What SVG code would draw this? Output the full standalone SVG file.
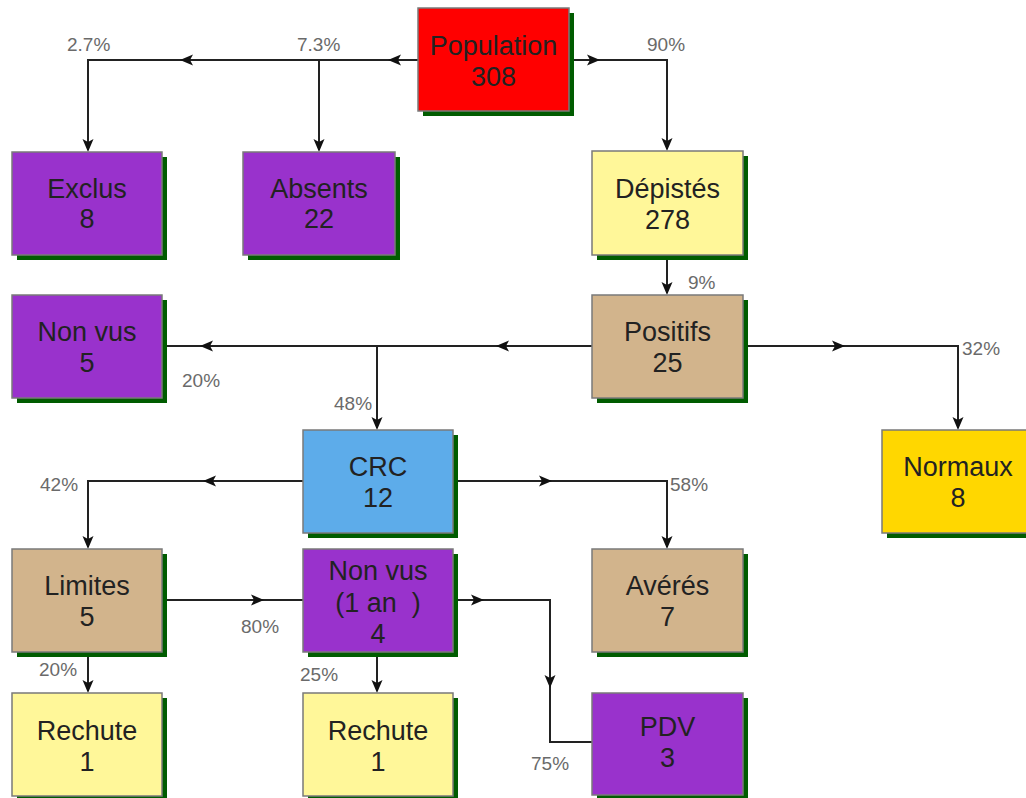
<svg xmlns="http://www.w3.org/2000/svg" xmlns:xlink="http://www.w3.org/1999/xlink" width="1026" height="798" viewBox="0 0 1026 798">
<defs>
<style>
.box{stroke:#7a7a7a;stroke-width:1.5}
.sh{fill:#005c00}
.t{font-family:"Liberation Sans",Arial,sans-serif;font-size:27px;fill:#222;text-anchor:middle}
.p{font-family:"Liberation Sans",Arial,sans-serif;font-size:19px;fill:#6a6a6a}
.ln{fill:none;stroke:#222;stroke-width:2}
.purple{fill:#9932cc}
.red{fill:#ff0000}
.yel{fill:#fff799}
.tan{fill:#d2b48c}
.blue{fill:#5dacea}
.gold{fill:#ffd700}
</style>
<path id="ah" d="M0,0 L-13,-5.5 L-10,0 L-13,5.5 Z" fill="#111"/>
</defs>
<rect width="1026" height="798" fill="#ffffff"/>

<g id="connectors">
<path class="ln" d="M418,60 H88 V150"/>
<path class="ln" d="M319,60 V150"/>
<path class="ln" d="M569,60 H667 V149"/>
<path class="ln" d="M667,255 V293"/>
<path class="ln" d="M592,346 H162"/>
<path class="ln" d="M377,346 V428"/>
<path class="ln" d="M743,346 H958 V428"/>
<path class="ln" d="M303,481 H88 V547"/>
<path class="ln" d="M453,481 H667 V547"/>
<path class="ln" d="M162,600 H303"/>
<path class="ln" d="M453,600 H550 V742 H592"/>
<path class="ln" d="M88,652 V691"/>
<path class="ln" d="M377,652 V691"/>
<use xlink:href="#ah" transform="translate(180,60) rotate(180)"/>
<use xlink:href="#ah" transform="translate(388,60) rotate(180)"/>
<use xlink:href="#ah" transform="translate(88,152) rotate(90)"/>
<use xlink:href="#ah" transform="translate(319,152) rotate(90)"/>
<use xlink:href="#ah" transform="translate(600,60)"/>
<use xlink:href="#ah" transform="translate(667,151) rotate(90)"/>
<use xlink:href="#ah" transform="translate(667,295) rotate(90)"/>
<use xlink:href="#ah" transform="translate(496,346) rotate(180)"/>
<use xlink:href="#ah" transform="translate(200,346) rotate(180)"/>
<use xlink:href="#ah" transform="translate(377,430) rotate(90)"/>
<use xlink:href="#ah" transform="translate(845,346)"/>
<use xlink:href="#ah" transform="translate(958,430) rotate(90)"/>
<use xlink:href="#ah" transform="translate(203,481) rotate(180)"/>
<use xlink:href="#ah" transform="translate(88,549) rotate(90)"/>
<use xlink:href="#ah" transform="translate(552,481)"/>
<use xlink:href="#ah" transform="translate(667,549) rotate(90)"/>
<use xlink:href="#ah" transform="translate(264,600)"/>
<use xlink:href="#ah" transform="translate(484,600)"/>
<use xlink:href="#ah" transform="translate(550,688) rotate(90)"/>
<use xlink:href="#ah" transform="translate(88,693) rotate(90)"/>
<use xlink:href="#ah" transform="translate(377,693) rotate(90)"/>
<text class="p" x="67" y="51">2.7%</text>
<text class="p" x="297" y="51">7.3%</text>
<text class="p" x="647" y="51">90%</text>
<text class="p" x="688" y="289">9%</text>
<text class="p" x="962" y="355">32%</text>
<text class="p" x="182" y="387">20%</text>
<text class="p" x="334" y="410">48%</text>
<text class="p" x="40" y="491">42%</text>
<text class="p" x="670" y="491">58%</text>
<text class="p" x="241" y="633">80%</text>
<text class="p" x="39" y="676">20%</text>
<text class="p" x="300" y="681">25%</text>
<text class="p" x="531" y="770">75%</text>
</g>

<g id="population">
<rect class="sh" x="423" y="13" width="151" height="103"/>
<rect class="box red" x="418" y="8" width="151" height="103"/>
<text class="t" x="493.5" y="55">Population</text>
<text class="t" x="493.5" y="86">308</text>
</g>
<g id="exclus">
<rect class="sh" x="17" y="157" width="150" height="103"/>
<rect class="box purple" x="12" y="152" width="150" height="103"/>
<text class="t" x="87" y="198">Exclus</text>
<text class="t" x="87" y="228">8</text>
</g>
<g id="absents">
<rect class="sh" x="248" y="157" width="152" height="103"/>
<rect class="box purple" x="243" y="152" width="152" height="103"/>
<text class="t" x="319" y="198">Absents</text>
<text class="t" x="319" y="228">22</text>
</g>
<g id="depistes">
<rect class="sh" x="597" y="156" width="151" height="104"/>
<rect class="box yel" x="592" y="151" width="151" height="104"/>
<text class="t" x="667.5" y="198">Dépistés</text>
<text class="t" x="667.5" y="229">278</text>
</g>
<g id="nonvus5">
<rect class="sh" x="17" y="300" width="150" height="103"/>
<rect class="box purple" x="12" y="295" width="150" height="103"/>
<text class="t" x="87" y="341">Non vus</text>
<text class="t" x="87" y="372">5</text>
</g>
<g id="positifs">
<rect class="sh" x="597" y="300" width="151" height="103"/>
<rect class="box tan" x="592" y="295" width="151" height="103"/>
<text class="t" x="667.5" y="341">Positifs</text>
<text class="t" x="667.5" y="372">25</text>
</g>
<g id="crc">
<rect class="sh" x="308" y="435" width="150" height="103"/>
<rect class="box blue" x="303" y="430" width="150" height="103"/>
<text class="t" x="378" y="476">CRC</text>
<text class="t" x="378" y="507">12</text>
</g>
<g id="normaux">
<rect class="sh" x="887" y="435" width="152" height="103"/>
<rect class="box gold" x="882" y="430" width="152" height="103"/>
<text class="t" x="958" y="476">Normaux</text>
<text class="t" x="958" y="507">8</text>
</g>
<g id="limites">
<rect class="sh" x="17" y="554" width="150" height="103"/>
<rect class="box tan" x="12" y="549" width="150" height="103"/>
<text class="t" x="87" y="595">Limites</text>
<text class="t" x="87" y="626">5</text>
</g>
<g id="nonvus1an">
<rect class="sh" x="308" y="554" width="150" height="103"/>
<rect class="box purple" x="303" y="549" width="150" height="103"/>
<text class="t" x="378" y="580">Non vus</text>
<text class="t" x="378" y="612" xml:space="preserve">(1 an  )</text>
<text class="t" x="378" y="643">4</text>
</g>
<g id="averes">
<rect class="sh" x="597" y="554" width="151" height="103"/>
<rect class="box tan" x="592" y="549" width="151" height="103"/>
<text class="t" x="667.5" y="595">Avérés</text>
<text class="t" x="667.5" y="626">7</text>
</g>
<g id="rechute1">
<rect class="sh" x="17" y="698" width="150" height="103"/>
<rect class="box yel" x="12" y="693" width="150" height="103"/>
<text class="t" x="87" y="740">Rechute</text>
<text class="t" x="87" y="771">1</text>
</g>
<g id="rechute2">
<rect class="sh" x="308" y="698" width="150" height="103"/>
<rect class="box yel" x="303" y="693" width="150" height="103"/>
<text class="t" x="378" y="740">Rechute</text>
<text class="t" x="378" y="771">1</text>
</g>
<g id="pdv">
<rect class="sh" x="597" y="698" width="151" height="102"/>
<rect class="box purple" x="592" y="693" width="151" height="102"/>
<text class="t" x="667.5" y="736">PDV</text>
<text class="t" x="667.5" y="767">3</text>
</g>
</svg>
